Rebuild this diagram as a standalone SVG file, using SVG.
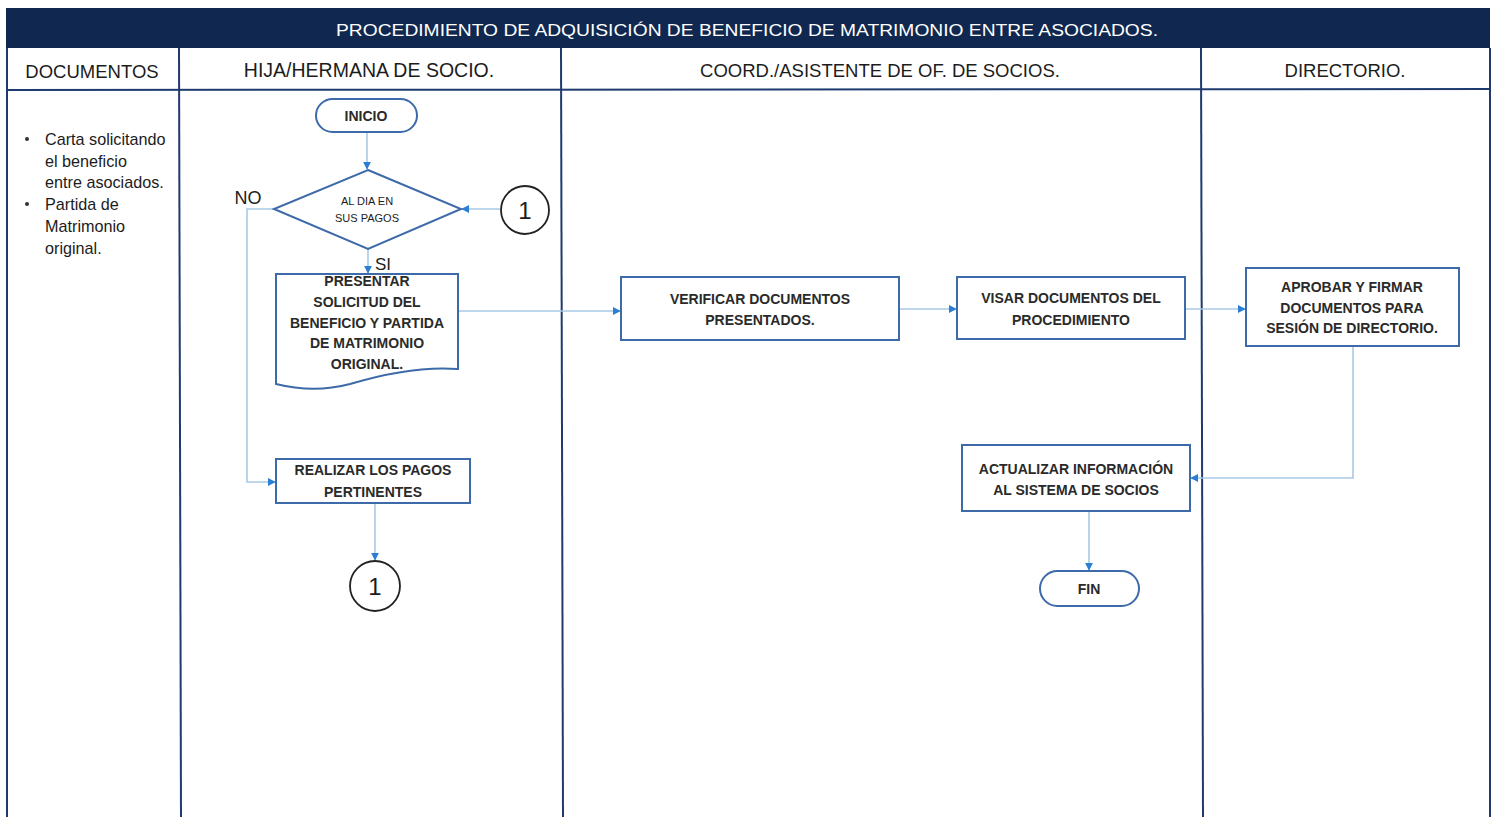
<svg xmlns="http://www.w3.org/2000/svg" width="1498" height="817" viewBox="0 0 1498 817">
<defs>
<style>
.t{font-family:"Liberation Sans",Arial,sans-serif;fill:#1c1c1c;text-anchor:middle}
.hdr{font-size:18.5px}
.box{fill:#fff;stroke:#3d6aa8;stroke-width:2}
.bt{font-size:14px;font-weight:bold;fill:#2a2a2a}
.lane{stroke:#1f3b6e;stroke-width:2;fill:none}
.con{stroke:#a9c9e6;stroke-width:1.6;fill:none}
.circ{fill:#fff;stroke:#222;stroke-width:1.8}
.doc{font-family:"Liberation Sans",Arial,sans-serif;font-size:16.2px;fill:#1c1c1c}
</style>
<marker id="ar" viewBox="0 0 10 10" refX="9" refY="5" markerWidth="8" markerHeight="8" orient="auto" markerUnits="userSpaceOnUse">
<path d="M0,0 L10,5 L0,10 z" fill="#2a7fd4"/>
</marker>
</defs>
<rect width="1498" height="817" fill="#fff"/>
<g id="lanes">
<rect x="6" y="8" width="1484" height="40" fill="#10284f"/>
<text class="t" x="747" y="36" style="fill:#fff;font-size:17px" textLength="822" lengthAdjust="spacingAndGlyphs">PROCEDIMIENTO DE ADQUISICIÓN DE BENEFICIO DE MATRIMONIO ENTRE ASOCIADOS.</text>
<line class="lane" x1="7" y1="48" x2="7" y2="817"/>
<line class="lane" x1="1490" y1="48" x2="1490" y2="817"/>
<line class="lane" x1="179" y1="48" x2="181" y2="817"/>
<line class="lane" x1="561" y1="48" x2="563" y2="817"/>
<line class="lane" x1="1201" y1="48" x2="1203" y2="817"/>
<line class="lane" x1="7" y1="90" x2="1490" y2="89"/>
<text class="t hdr" x="92" y="78">DOCUMENTOS</text>
<text class="t hdr" x="369" y="77" style="font-size:19.5px">HIJA/HERMANA DE SOCIO.</text>
<text class="t hdr" x="880" y="77">COORD./ASISTENTE  DE OF. DE SOCIOS.</text>
<text class="t hdr" x="1345" y="77">DIRECTORIO.</text>
</g>
<g id="documentos">
<circle cx="27" cy="139" r="2" fill="#333"/>
<circle cx="27" cy="204" r="2" fill="#333"/>
<text class="doc" x="45" y="145">Carta solicitando</text>
<text class="doc" x="45" y="167">el beneficio</text>
<text class="doc" x="45" y="188">entre asociados.</text>
<text class="doc" x="45" y="210">Partida de</text>
<text class="doc" x="45" y="232">Matrimonio</text>
<text class="doc" x="45" y="254">original.</text>
</g>
<g id="connectors">
<line class="con" x1="367" y1="132" x2="367" y2="169" marker-end="url(#ar)"/>
<line class="con" x1="500" y1="209" x2="462" y2="209" marker-end="url(#ar)"/>
<polyline class="con" points="274,209 247,209 247,482 275,482" marker-end="url(#ar)"/>
<line class="con" x1="368" y1="249" x2="368" y2="273" marker-end="url(#ar)"/>
<line class="con" x1="458" y1="311" x2="620" y2="311" marker-end="url(#ar)"/>
<line class="con" x1="899" y1="309" x2="956" y2="309" marker-end="url(#ar)"/>
<line class="con" x1="1185" y1="309" x2="1245" y2="309" marker-end="url(#ar)"/>
<polyline class="con" points="1353,346 1353,478 1191,478" marker-end="url(#ar)"/>
<line class="con" x1="1089" y1="511" x2="1089" y2="570" marker-end="url(#ar)"/>
<line class="con" x1="375" y1="503" x2="375" y2="560" marker-end="url(#ar)"/>
</g>
<g id="inicio">
<rect class="box" x="316" y="99" width="101" height="33" rx="16.5"/>
<text class="t bt" x="366" y="121">INICIO</text>
</g>
<g id="decision">
<polygon class="box" points="368,170 461,209 368,249 274,209"/>
<text class="t" x="367" y="205" style="font-size:11px">AL DIA EN</text>
<text class="t" x="367" y="222" style="font-size:11px">SUS PAGOS</text>
<text class="t" x="248" y="204" style="font-size:18px">NO</text>
<text class="t" x="383" y="270" style="font-size:17px">SI</text>
</g>
<g id="conector1a">
<circle class="circ" cx="525" cy="210" r="24"/>
<text class="t" x="525" y="219" style="font-size:24px">1</text>
</g>
<g id="presentar">
<path class="box" d="M276,274 H458 V369 C420,366 380,375 350,384 C320,392 296,389 276,384 Z"/>
<text class="t bt" x="367" y="286">PRESENTAR</text>
<text class="t bt" x="367" y="307">SOLICITUD DEL</text>
<text class="t bt" x="367" y="328">BENEFICIO Y PARTIDA</text>
<text class="t bt" x="367" y="348">DE MATRIMONIO</text>
<text class="t bt" x="367" y="369">ORIGINAL.</text>
</g>
<g id="realizar">
<rect class="box" x="276" y="459" width="194" height="44"/>
<text class="t bt" x="373" y="475">REALIZAR LOS PAGOS</text>
<text class="t bt" x="373" y="497">PERTINENTES</text>
</g>
<g id="conector1b">
<circle class="circ" cx="375" cy="586" r="25"/>
<text class="t" x="375" y="595" style="font-size:24px">1</text>
</g>
<g id="verificar">
<rect class="box" x="621" y="277" width="278" height="63"/>
<text class="t bt" x="760" y="304">VERIFICAR DOCUMENTOS</text>
<text class="t bt" x="760" y="325">PRESENTADOS.</text>
</g>
<g id="visar">
<rect class="box" x="957" y="277" width="228" height="62"/>
<text class="t bt" x="1071" y="303">VISAR DOCUMENTOS DEL</text>
<text class="t bt" x="1071" y="325">PROCEDIMIENTO</text>
</g>
<g id="aprobar">
<rect class="box" x="1246" y="268" width="213" height="78"/>
<text class="t bt" x="1352" y="292">APROBAR  Y FIRMAR</text>
<text class="t bt" x="1352" y="313">DOCUMENTOS  PARA</text>
<text class="t bt" x="1352" y="333">SESIÓN DE DIRECTORIO.</text>
</g>
<g id="actualizar">
<rect class="box" x="962" y="445" width="228" height="66"/>
<text class="t bt" x="1076" y="474">ACTUALIZAR INFORMACIÓN</text>
<text class="t bt" x="1076" y="495">AL SISTEMA DE SOCIOS</text>
</g>
<g id="fin">
<rect class="box" x="1040" y="571" width="99" height="35" rx="17.5"/>
<text class="t bt" x="1089" y="594">FIN</text>
</g>
</svg>
